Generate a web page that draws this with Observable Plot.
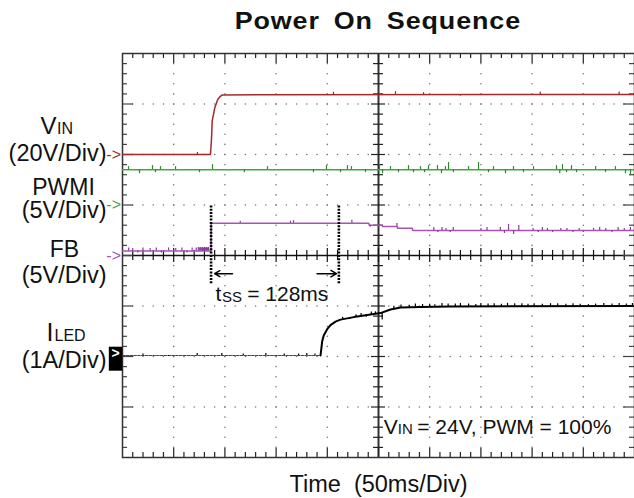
<!DOCTYPE html>
<html><head><meta charset="utf-8">
<script src="https://cdn.jsdelivr.net/npm/d3@7"></script>
<script src="https://cdn.jsdelivr.net/npm/@observablehq/plot@0.6"></script>
<style>
body{margin:0;background:#fff;}
#title{width:634px;height:42px;box-sizing:border-box;padding-left:122px;text-align:center;
font:bold 24px "Liberation Sans",Arial,sans-serif;line-height:42px;color:#111;}
#title span{display:inline-block;transform:scale(1.12,1);letter-spacing:0.8px;word-spacing:5px;}
</style></head><body>
<div id="title"><span>Power On Sequence</span></div>
<div id="chart"></div>
<script>
// ---- channel definitions (ground level in divisions from bottom, units per division)
const channelNames = ["VIN", "PWMI", "FB", "ILED"];
const channelGround = [6, 5, 4, 2];
const channelPerDiv = [20, 5, 5, 1];
const channelColors = ["#a32a2a", "#46a346", "#a752b8", "#000000"];

// ---- VIN (V) vs time (ms)
const vinT = [0, 85.9, 86.9, 87.6, 89.2, 90.1, 91.5, 93.1, 95.0, 97.4, 500];
const vinV = [0, 0, 6.0, 13.3, 16.6, 18.5, 20.1, 21.9, 22.8, 23.6, 23.8];
const vinSpikes = [[73.2, 0.8], [206, 1.0], [250, -1.0], [266.6, 1.2], [294, 0.8], [330, -0.6], [408, 1.0], [485, 1.0]];

// ---- PWMI (V)
const pwmT = [0, 500];
const pwmV = [3.5, 3.5];
const pwmSpikes = [[5.9,0.3],[16.6,-0.4],[29.3,0.4],[32.2,-0.3],[37.1,0.3],[51.8,0.3],[75.2,-0.3],[87.9,0.5],[119,-0.3],[141.6,0.3],[186.5,-0.3],[199.2,0.4],[212.9,-0.3],[219.7,0.4],[223.6,0.3],[237.3,-0.3],[251,0.5],[254,-0.4],[261.7,0.3],[269.5,-0.3],[279.3,0.4],[284.2,-0.3],[291,0.3],[295,-0.3],[298.8,0.4],[307.6,0.4],[311.5,-0.4],[315.4,0.3],[318.4,0.7],[323.2,-0.3],[337.9,0.3],[347.7,0.7],[357.4,-0.3],[362.3,0.3],[374,-0.4],[381.8,0.3],[391.6,-0.3],[401.4,0.3],[423.8,0.4],[427,-0.4],[429.7,0.5],[433.6,-0.3],[438.5,0.4],[443.4,-0.3],[462,0.3],[471.7,-0.3],[481.4,0.3],[491.2,-0.4],[496.1,-0.6]];

// ---- FB (V)
const fbT = [0, 86.5, 86.6, 240.5, 241, 253.6, 254, 268.3, 268.7, 282.9, 283.3, 500];
const fbV = [0.45, 0.45, 3.2, 3.2, 3.0, 3.0, 2.87, 2.87, 2.7, 2.7, 2.48, 2.48];
const fbSpikes = [[6,0.3],[10,0.25],[15,-0.2],[20,0.3],[27,0.25],[33,0.3],[38,-0.2],[45,0.3],[52,0.25],[58,0.3],[63,-0.2],[68,0.3],[72,0.3],[74,0.35],[75,0.3],[76,0.35],[77,0.3],[78,0.35],[79,0.3],[80,0.35],[81,0.3],[82,0.35],[83,0.3],[84,0.35],[115,0.2],[164,0.2],[167,0.25],[224,0.3],[242,-0.2],[268,0.3],[304,0.3],[308,-0.2],[312,0.3],[316,0.2],[320,-0.2],[323,0.3],[350,0.2],[356,0.3],[369,0.3],[373,-0.3],[377,0.6],[382,-0.4],[387,0.5],[401,0.2],[406,-0.2],[410,0.3],[415,0.2],[420,-0.2],[428,0.2],[434,0.2],[440,-0.2],[446,0.2],[450,-0.2],[460,0.2],[466,0.3],[472,0.2],[478,-0.2],[484,0.3],[490,0.2],[496,0.3]];

// ---- ILED (A)
const ledT = [0, 193.4, 195.0, 196.6, 199.9, 203.1, 208.0, 212.9, 225.9, 239.0, 251.9, 261.7, 271.5, 291, 320, 500];
const ledA = [0.02, 0.02, 0.3, 0.42, 0.54, 0.62, 0.69, 0.73, 0.78, 0.82, 0.86, 0.93, 0.97, 0.98, 0.99, 1.0];
const ledSpikes = [[20,0.03],[45,-0.02],[73,0.04],[97,0.04],[118,0.03],[140,0.04],[158,0.03],[172,0.03],[180,0.04],[188,0.03],[215,0.04],[222,-0.03],[228,0.04],[233,0.05],[238,-0.04],[243,0.05],[247,0.04],[253.6,-0.15],[265,0.05],[272,0.05],[280,0.04],[286,0.06],[293,0.05],[300,0.05],[305,0.04],[312,0.06],[318,0.05],[325,0.05],[330,0.06],[338,0.05],[345,0.04],[350,0.06],[357,0.05],[363,0.05],[370,0.04],[376,0.06],[383,0.05],[390,0.05],[396,0.04],[402,0.05],[410,0.04],[418,0.05],[425,0.05],[433,0.04],[440,0.05],[447,0.04],[455,0.03],[462,0.04],[470,0.05],[478,0.04],[485,0.05],[492,0.04],[498,0.05]];

// ---- annotations
const tssMarkers = [86.5, 211.3];      // ms
const tssSpan = [3.44, 4.98];          // divisions
const tssArrows = [{from: 107.4, to: 90.0}, {from: 190.0, to: 209.0}];
const tssArrowLevel = 3.64;

// ---- scope graticule
const xMinor = d3.range(10, 500, 10);
const yMinor = d3.range(1, 40).map(i => +(i * 0.2).toFixed(1));
const xMajorGrid = [50, 100, 150, 200, 300, 350, 400, 450];
const yMajorGrid = [1, 2, 3, 5, 6, 7];

const PXY = 50.5, PXX = 1.024; // pixels per division / per ms
const isMajX = t => t % 50 === 0;
const isMajY = v => Math.abs(v - Math.round(v)) < 1e-6;

const toDiv = (i, v) => channelGround[i] + v / channelPerDiv[i];
const series = (T, V) => T.map((t, k) => ({t, v: V[k]}));
const vin = series(vinT, vinV), pwm = series(pwmT, pwmV), fb = series(fbT, fbV), led = series(ledT, ledA);
const interp = (T, V) => d3.scaleLinear().domain(T).range(V);
function spikes(i, list, T, V, opts) {
  const f = interp(T, V);
  return Plot.ruleX(list, {x: d => d[0], y1: d => toDiv(i, f(d[0])), y2: d => toDiv(i, f(d[0]) + d[1]), stroke: channelColors[i], strokeWidth: 1.2, ...opts});
}
const FONT = "Liberation Sans, Arial, sans-serif";
const T = (s, dx, dy, size, anchor = "start", extra = {}) =>
  Plot.text([s], {frameAnchor: "top-left", text: d => d, dx, dy, fontSize: size, textAnchor: anchor, lineAnchor: "bottom", fill: "#111", ...extra});

const markers = [0, 1, 2].map(i => Plot.text([channelNames[i]], {x: 0, y: channelGround[i], text: () => "->", dx: -1.5, textAnchor: "end", fontSize: 16, fill: channelColors[i]}));

const plot = Plot.plot({
  width: 634, height: 456,
  marginLeft: 122, marginRight: 0, marginTop: 11, marginBottom: 41,
  x: {domain: [0, 500], axis: null},
  y: {domain: [0, 8], axis: null},
  style: {fontFamily: FONT, background: "white", overflow: "visible"},
  marks: [
    // dotted grid
    Plot.dot(d3.cross(xMajorGrid, yMinor), {x: d => d[0], y: d => d[1], r: 0.8, fill: "#777"}),
    Plot.dot(d3.cross(xMinor, yMajorGrid), {x: d => d[0], y: d => d[1], r: 0.8, fill: "#777"}),
    // center axes
    Plot.ruleY([4], {stroke: "#111", strokeWidth: 1.5}),
    Plot.ruleX([250], {stroke: "#333", strokeWidth: 2}),
    Plot.ruleX(xMinor, {x: d => d, y1: d => 4 - (isMajX(d) ? 7 : 5) / PXY, y2: d => 4 + (isMajX(d) ? 7 : 5) / PXY, stroke: "#111", strokeWidth: 1.2}),
    Plot.ruleY(yMinor, {y: d => d, x1: d => 250 - (isMajY(d) ? 7 : 5) / PXX, x2: d => 250 + (isMajY(d) ? 7 : 5) / PXX, stroke: "#222", strokeWidth: 1.2}),
    // frame ticks
    Plot.ruleX(xMinor, {x: d => d, y1: 8, y2: d => 8 - (isMajX(d) ? 10 : 5) / PXY, stroke: "#222", strokeWidth: 1.2}),
    Plot.ruleX(xMinor, {x: d => d, y1: 0, y2: d => (isMajX(d) ? 9 : 5) / PXY, stroke: "#222", strokeWidth: 1.2}),
    Plot.ruleY(yMinor, {y: d => d, x1: 0, x2: d => (isMajY(d) ? 11 : 5) / PXX, stroke: "#444", strokeWidth: 1.2}),
    Plot.ruleY(yMinor, {y: d => d, x1: d => 500 - (isMajY(d) ? 11 : 5) / PXX, x2: 500, stroke: "#444", strokeWidth: 1.2}),
    Plot.frame({stroke: "#333", strokeWidth: 1.5}),
    // traces
    Plot.line(vin, {x: "t", y: d => toDiv(0, d.v), stroke: channelColors[0], strokeWidth: 1.5}),
    spikes(0, vinSpikes, vinT, vinV),
    Plot.line(pwm, {x: "t", y: d => toDiv(1, d.v), stroke: channelColors[1], strokeWidth: 1.5}),
    spikes(1, pwmSpikes, pwmT, pwmV, {stroke: "#2a8a2a"}),
    Plot.line(fb, {x: "t", y: d => toDiv(2, d.v), stroke: channelColors[2], strokeWidth: 1.5}),
    spikes(2, fbSpikes, fbT, fbV, {stroke: "#8e3a9e"}),
    Plot.line(led.filter(d => d.t <= 193.4), {x: "t", y: d => toDiv(3, d.v), stroke: "#444", strokeWidth: 1.2, strokeDasharray: "2.5,1.3"}),
    Plot.line(led.filter(d => d.t >= 193.4), {x: "t", y: d => toDiv(3, d.v), stroke: "#000", strokeWidth: 2}),
    spikes(3, ledSpikes, ledT, ledA, {stroke: "#000"}),
    // channel ground markers
    ...markers,
    Plot.ruleX([channelNames[3]], {x: 0, y1: channelGround[3] - 14.7 / PXY, y2: channelGround[3] + 9.3 / PXY, dx: -7, strokeWidth: 13.4, stroke: "#000"}),
    Plot.text([channelNames[3]], {x: 0, y: channelGround[3], text: () => ">", dx: -7, dy: -3, textAnchor: "middle", fontSize: 14, fontWeight: "bold", fill: "#fff"}),
    // soft-start annotation
    Plot.ruleX(tssMarkers, {x: d => d, y1: tssSpan[0], y2: tssSpan[1], stroke: "#000", strokeWidth: 2.6, strokeDasharray: "2,1.3"}),
    Plot.arrow(tssArrows, {x1: "from", x2: "to", y1: tssArrowLevel, y2: tssArrowLevel, stroke: "#000", strokeWidth: 1.5, headLength: 7}),
    T("t", 93, 247, 21), T("SS", 99.5, 248.7, 15), T("= 128ms", 124.7, 247, 21),
    T("V", 261.3, 380.3, 21), T("IN", 275.3, 380.3, 15), T("= 24V, PWM = 100%", 294.7, 380.3, 21),
    // left labels
    T("V", -66, 80.3, 24, "end"), T("IN", -65.5, 80.3, 16),
    T("(20V/Div)", -16, 107.5, 23.5, "end"),
    T("PWMI", -59, 141, 23, "middle"),
    T("(5V/Div)", -16, 164.5, 23.5, "end"),
    T("FB", -58, 203.7, 23, "middle"),
    T("(5V/Div)", -16, 229.5, 23.5, "end"),
    T("I", -69, 287, 25, "end"), T("LED", -68, 287, 16),
    T("(1A/Div)", -16, 314, 23.5, "end"),
    // x label
    T("Time\u00a0\u00a0(50ms/Div)", 256, 438.7, 23.5, "middle")
  ]
});
document.getElementById("chart").appendChild(plot);
</script></body></html>
